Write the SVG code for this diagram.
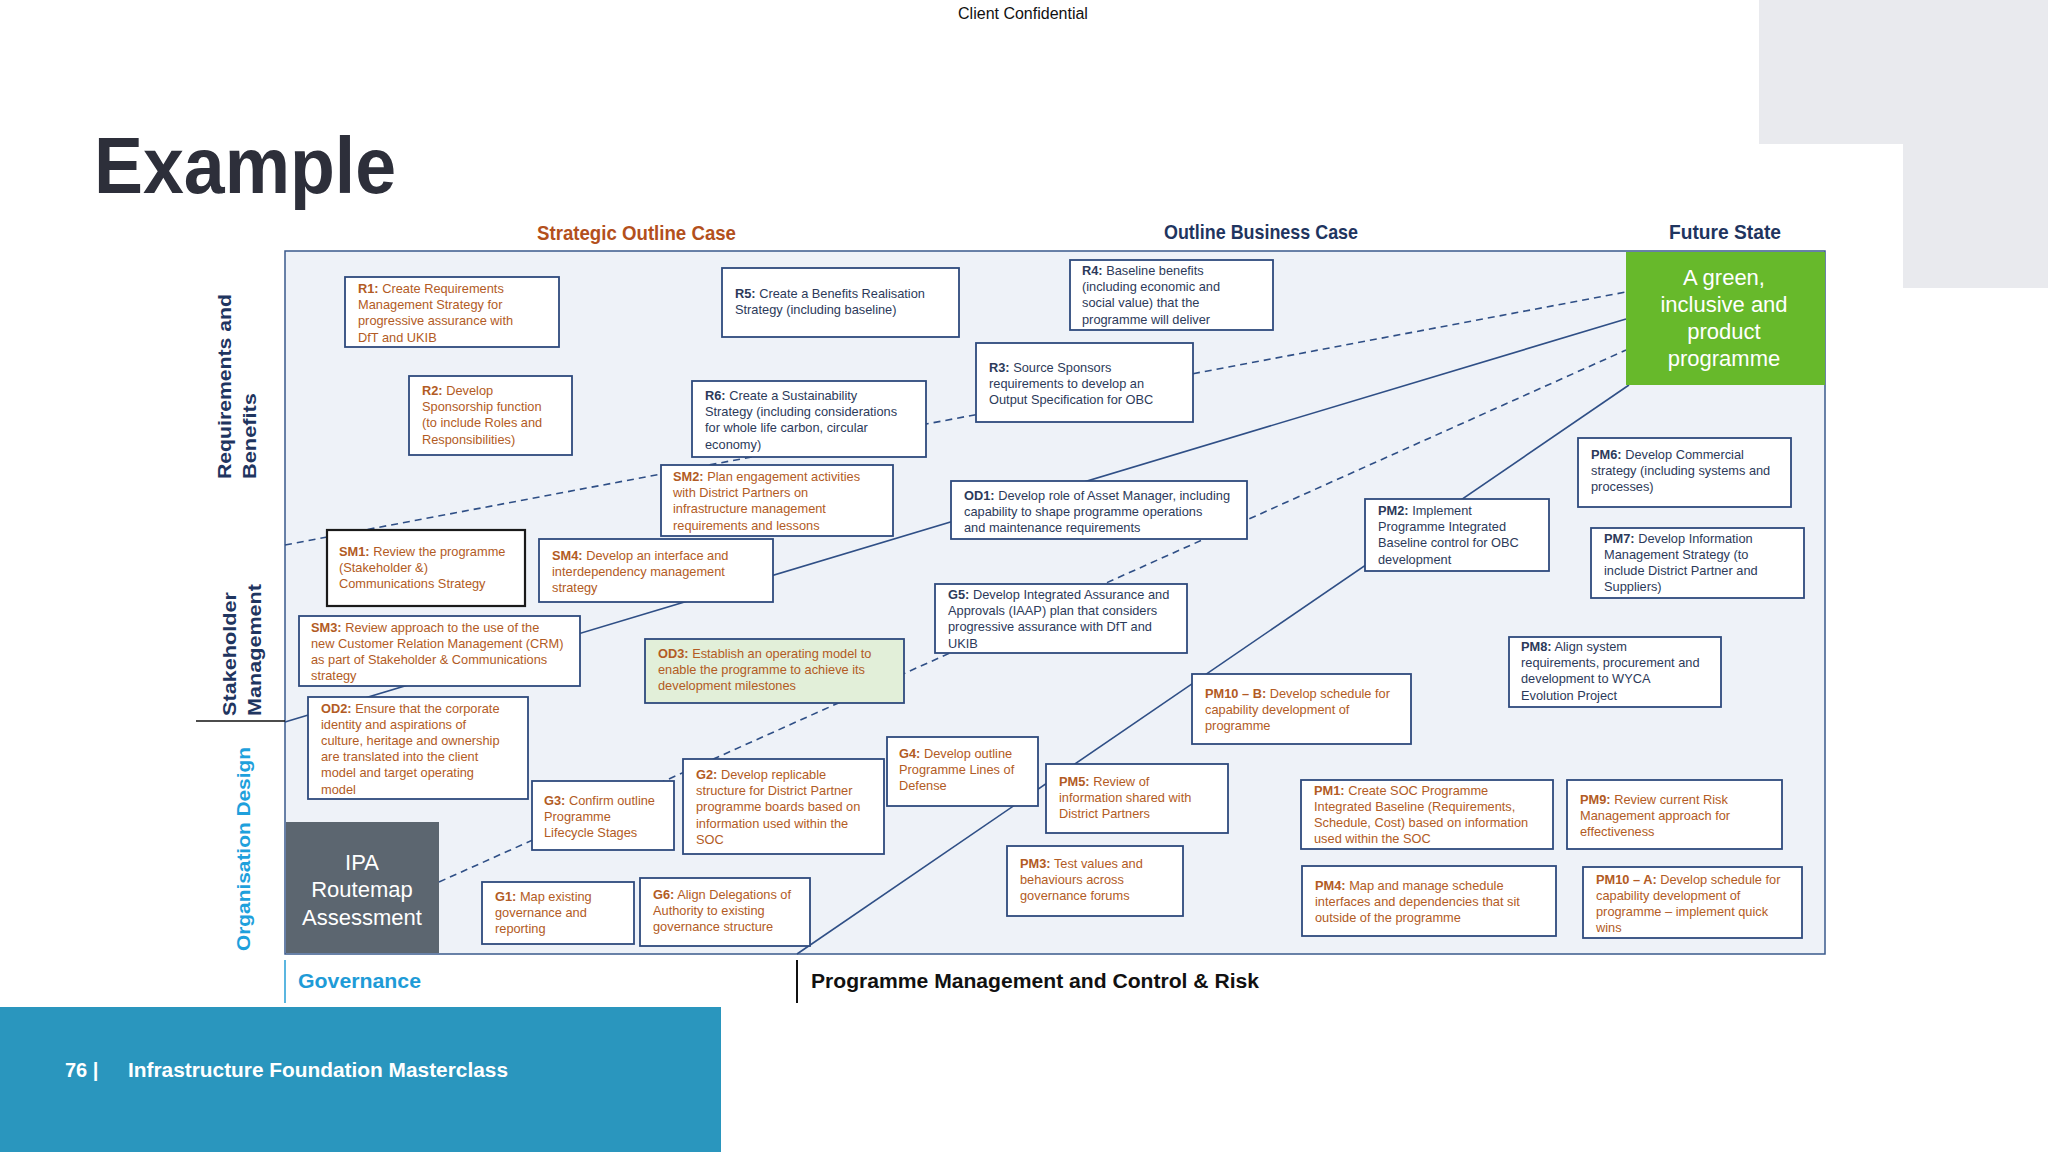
<svg xmlns="http://www.w3.org/2000/svg" width="2048" height="1152" viewBox="0 0 2048 1152">
<style>
.bx{fill:#fff;stroke:#2e4a7d;stroke-width:1.8}
.t{font-family:"Liberation Sans",Arial,sans-serif;font-size:12.8px}
.o{fill:#b25b24}
.n{fill:#2c3a5a}
.b{font-weight:bold}
.dash{fill:none;stroke:#2f4f86;stroke-width:1.6;stroke-dasharray:7 5}
.solid{fill:none;stroke:#2f4f86;stroke-width:1.6}
.hd{font-family:"Liberation Sans",Arial,sans-serif;font-weight:bold}
</style>
<rect width="2048" height="1152" fill="#fff"/>
<rect x="1759" y="0" width="289" height="144" fill="#e9eaee"/>
<rect x="1903" y="144" width="145" height="144" fill="#e9eaee"/>
<text x="1023" y="19" text-anchor="middle" font-family="'Liberation Sans',Arial,sans-serif" font-size="16" fill="#111">Client Confidential</text>
<text x="94" y="193" class="hd" font-size="80" fill="#2d2f3a" textLength="302" lengthAdjust="spacingAndGlyphs">Example</text>

<g id="headers">
<text x="537" y="240" class="hd" font-size="21" fill="#b3501c" textLength="199" lengthAdjust="spacingAndGlyphs">Strategic Outline Case</text>
<text x="1164" y="239" class="hd" font-size="21" fill="#1f3560" textLength="194" lengthAdjust="spacingAndGlyphs">Outline Business Case</text>
<text x="1669" y="239" class="hd" font-size="21" fill="#1f3560" textLength="112" lengthAdjust="spacingAndGlyphs">Future State</text>
</g>

<rect id="frame" x="285" y="251" width="1540" height="703" fill="#eef2f8" stroke="#3a5a8c" stroke-width="1.5"/>

<g id="lanes">
<text transform="translate(231,479) rotate(-90)" class="hd" font-size="19" fill="#1f3560" textLength="185" lengthAdjust="spacingAndGlyphs">Requirements and</text>
<text transform="translate(256,479) rotate(-90)" class="hd" font-size="19" fill="#1f3560" textLength="86" lengthAdjust="spacingAndGlyphs">Benefits</text>
<text transform="translate(236,716) rotate(-90)" class="hd" font-size="19" fill="#1f3560" textLength="124" lengthAdjust="spacingAndGlyphs">Stakeholder</text>
<text transform="translate(261,716) rotate(-90)" class="hd" font-size="19" fill="#1f3560" textLength="132" lengthAdjust="spacingAndGlyphs">Management</text>
<line x1="196" y1="721" x2="285" y2="721" stroke="#111" stroke-width="1.5"/>
<text transform="translate(250,951) rotate(-90)" class="hd" font-size="19" fill="#1ea0dc" textLength="204" lengthAdjust="spacingAndGlyphs">Organisation Design</text>
<line x1="285" y1="960" x2="285" y2="1003" stroke="#5bb6e0" stroke-width="2"/>
<text x="298" y="988" class="hd" font-size="20" fill="#1e9bd7" textLength="123" lengthAdjust="spacingAndGlyphs">Governance</text>
<line x1="797" y1="960" x2="797" y2="1003" stroke="#111" stroke-width="2"/>
<text x="811" y="988" class="hd" font-size="20" fill="#111" textLength="448" lengthAdjust="spacingAndGlyphs">Programme Management and Control &amp; Risk</text>
</g>

<g id="connectors">
<line class="dash" x1="285" y1="545" x2="1626" y2="292"/>
<line class="solid" x1="285" y1="722" x2="1626" y2="319"/>
<line class="dash" x1="439" y1="882" x2="1626" y2="350"/>
<line class="solid" x1="797" y1="954" x2="1629" y2="385"/>
</g>

<g id="goal">
<rect x="1626" y="252" width="199" height="133" fill="#67b92b"/>
<text class="hd" font-weight="normal" font-size="22" fill="#fff" text-anchor="middle" style="font-weight:normal">
<tspan x="1724" y="285">A green,</tspan><tspan x="1724" y="312">inclusive and</tspan><tspan x="1724" y="339">product</tspan><tspan x="1724" y="366">programme</tspan></text>
</g>

<g id="ipa">
<rect x="286" y="822" width="153" height="131" fill="#5c6670"/>
<text font-family="'Liberation Sans',Arial,sans-serif" font-size="22" fill="#fff" text-anchor="middle">
<tspan x="362" y="870">IPA</tspan><tspan x="362" y="897">Routemap</tspan><tspan x="362" y="925">Assessment</tspan></text>
</g>

<g id="R1"><rect class="bx" x="345" y="277" width="214" height="70"/>
<text class="t o"><tspan x="358" y="293"><tspan class="b">R1:</tspan> Create Requirements</tspan><tspan x="358" dy="16.2">Management Strategy for</tspan><tspan x="358" dy="16.2">progressive assurance with</tspan><tspan x="358" dy="16.2">DfT and UKIB</tspan></text></g>

<g id="R5"><rect class="bx" x="722" y="268" width="237" height="69"/>
<text class="t n"><tspan x="735" y="298"><tspan class="b">R5:</tspan> Create a Benefits Realisation</tspan><tspan x="735" dy="16.2">Strategy (including baseline)</tspan></text></g>

<g id="R4"><rect class="bx" x="1070" y="260" width="203" height="70"/>
<text class="t n"><tspan x="1082" y="275"><tspan class="b">R4:</tspan> Baseline benefits</tspan><tspan x="1082" dy="16.2">(including economic and</tspan><tspan x="1082" dy="16.2">social value) that the</tspan><tspan x="1082" dy="16.2">programme will deliver</tspan></text></g>

<g id="R3"><rect class="bx" x="976" y="343" width="217" height="79"/>
<text class="t n"><tspan x="989" y="371.5"><tspan class="b">R3:</tspan> Source Sponsors</tspan><tspan x="989" dy="16.2">requirements to develop an</tspan><tspan x="989" dy="16.2">Output Specification for OBC</tspan></text></g>

<g id="R2"><rect class="bx" x="409" y="376" width="163" height="79"/>
<text class="t o"><tspan x="422" y="395"><tspan class="b">R2:</tspan> Develop</tspan><tspan x="422" dy="16.2">Sponsorship function</tspan><tspan x="422" dy="16.2">(to include Roles and</tspan><tspan x="422" dy="16.2">Responsibilities)</tspan></text></g>

<g id="R6"><rect class="bx" x="692" y="381" width="234" height="76"/>
<text class="t n"><tspan x="705" y="400"><tspan class="b">R6:</tspan> Create a Sustainability</tspan><tspan x="705" dy="16.2">Strategy (including considerations</tspan><tspan x="705" dy="16.2">for whole life carbon, circular</tspan><tspan x="705" dy="16.2">economy)</tspan></text></g>

<g id="SM2"><rect class="bx" x="661" y="465" width="232" height="71"/>
<text class="t o"><tspan x="673" y="481"><tspan class="b">SM2:</tspan> Plan engagement activities</tspan><tspan x="673" dy="16.2">with District Partners on</tspan><tspan x="673" dy="16.2">infrastructure management</tspan><tspan x="673" dy="16.2">requirements and lessons</tspan></text></g>

<g id="OD1"><rect class="bx" x="951" y="481" width="296" height="58"/>
<text class="t n"><tspan x="964" y="499.5"><tspan class="b">OD1:</tspan> Develop role of Asset Manager, including</tspan><tspan x="964" dy="16.2">capability to shape programme operations</tspan><tspan x="964" dy="16.2">and maintenance requirements</tspan></text></g>

<g id="SM1"><rect x="327" y="530" width="198" height="76" fill="#fff" stroke="#1a1a1a" stroke-width="2.2"/>
<text class="t o"><tspan x="339" y="556"><tspan class="b">SM1:</tspan> Review the programme</tspan><tspan x="339" dy="16.2">(Stakeholder &amp;)</tspan><tspan x="339" dy="16.2">Communications Strategy</tspan></text></g>

<g id="SM4"><rect class="bx" x="539" y="539" width="234" height="63"/>
<text class="t o"><tspan x="552" y="560"><tspan class="b">SM4:</tspan> Develop an interface and</tspan><tspan x="552" dy="16.2">interdependency management</tspan><tspan x="552" dy="16.2">strategy</tspan></text></g>

<g id="G5"><rect class="bx" x="935" y="584" width="252" height="69"/>
<text class="t n"><tspan x="948" y="599"><tspan class="b">G5:</tspan> Develop Integrated Assurance and</tspan><tspan x="948" dy="16.2">Approvals (IAAP) plan that considers</tspan><tspan x="948" dy="16.2">progressive assurance with DfT and</tspan><tspan x="948" dy="16.2">UKIB</tspan></text></g>

<g id="SM3"><rect class="bx" x="299" y="616" width="281" height="70"/>
<text class="t o"><tspan x="311" y="631.5"><tspan class="b">SM3:</tspan> Review approach to the use of the</tspan><tspan x="311" dy="16.2">new Customer Relation Management (CRM)</tspan><tspan x="311" dy="16.2">as part of Stakeholder &amp; Communications</tspan><tspan x="311" dy="16.2">strategy</tspan></text></g>

<g id="OD3"><rect x="645" y="639" width="259" height="64" fill="#e2efd9" stroke="#2e4a7d" stroke-width="1.8"/>
<text class="t o"><tspan x="658" y="657.5"><tspan class="b">OD3:</tspan> Establish an operating model to</tspan><tspan x="658" dy="16.2">enable the programme to achieve its</tspan><tspan x="658" dy="16.2">development milestones</tspan></text></g>

<g id="OD2"><rect class="bx" x="308" y="697" width="220" height="102"/>
<text class="t o"><tspan x="321" y="712.5"><tspan class="b">OD2:</tspan> Ensure that the corporate</tspan><tspan x="321" dy="16.2">identity and aspirations of</tspan><tspan x="321" dy="16.2">culture, heritage and ownership</tspan><tspan x="321" dy="16.2">are translated into the client</tspan><tspan x="321" dy="16.2">model and target operating</tspan><tspan x="321" dy="16.2">model</tspan></text></g>

<g id="G4"><rect class="bx" x="887" y="737" width="151" height="69"/>
<text class="t o"><tspan x="899" y="758"><tspan class="b">G4:</tspan> Develop outline</tspan><tspan x="899" dy="16.2">Programme Lines of</tspan><tspan x="899" dy="16.2">Defense</tspan></text></g>

<g id="G2"><rect class="bx" x="683" y="759" width="201" height="95"/>
<text class="t o"><tspan x="696" y="779"><tspan class="b">G2:</tspan> Develop replicable</tspan><tspan x="696" dy="16.2">structure for District Partner</tspan><tspan x="696" dy="16.2">programme boards based on</tspan><tspan x="696" dy="16.2">information used within the</tspan><tspan x="696" dy="16.2">SOC</tspan></text></g>

<g id="G3"><rect class="bx" x="532" y="781" width="142" height="69"/>
<text class="t o"><tspan x="544" y="805"><tspan class="b">G3:</tspan> Confirm  outline</tspan><tspan x="544" dy="16.2">Programme</tspan><tspan x="544" dy="16.2">Lifecycle Stages</tspan></text></g>

<g id="PM5"><rect class="bx" x="1046" y="764" width="182" height="69"/>
<text class="t o"><tspan x="1059" y="785.5"><tspan class="b">PM5:</tspan> Review of</tspan><tspan x="1059" dy="16.2">information shared with</tspan><tspan x="1059" dy="16.2">District Partners</tspan></text></g>

<g id="PM3"><rect class="bx" x="1007" y="846" width="176" height="70"/>
<text class="t o"><tspan x="1020" y="867.5"><tspan class="b">PM3:</tspan> Test values and</tspan><tspan x="1020" dy="16.2">behaviours across</tspan><tspan x="1020" dy="16.2">governance forums</tspan></text></g>

<g id="G1"><rect class="bx" x="482" y="882" width="152" height="62"/>
<text class="t o"><tspan x="495" y="900.5"><tspan class="b">G1:</tspan> Map existing</tspan><tspan x="495" dy="16.2">governance and</tspan><tspan x="495" dy="16.2">reporting</tspan></text></g>

<g id="G6"><rect class="bx" x="640" y="878" width="170" height="68"/>
<text class="t o"><tspan x="653" y="899"><tspan class="b">G6:</tspan> Align Delegations of</tspan><tspan x="653" dy="16.2">Authority to existing</tspan><tspan x="653" dy="16.2">governance structure</tspan></text></g>

<g id="PM10B"><rect class="bx" x="1192" y="674" width="219" height="70"/>
<text class="t o"><tspan x="1205" y="698"><tspan class="b">PM10 – B:</tspan> Develop schedule for</tspan><tspan x="1205" dy="16.2">capability development of</tspan><tspan x="1205" dy="16.2">programme</tspan></text></g>

<g id="PM2"><rect class="bx" x="1365" y="499" width="184" height="72"/>
<text class="t n"><tspan x="1378" y="515"><tspan class="b">PM2:</tspan> Implement</tspan><tspan x="1378" dy="16.2">Programme Integrated</tspan><tspan x="1378" dy="16.2">Baseline control for OBC</tspan><tspan x="1378" dy="16.2">development</tspan></text></g>

<g id="PM6"><rect class="bx" x="1578" y="438" width="213" height="69"/>
<text class="t n"><tspan x="1591" y="459"><tspan class="b">PM6:</tspan> Develop Commercial</tspan><tspan x="1591" dy="16.2">strategy (including systems and</tspan><tspan x="1591" dy="16.2">processes)</tspan></text></g>

<g id="PM7"><rect class="bx" x="1591" y="528" width="213" height="70"/>
<text class="t n"><tspan x="1604" y="542.5"><tspan class="b">PM7:</tspan> Develop Information</tspan><tspan x="1604" dy="16.2">Management Strategy (to</tspan><tspan x="1604" dy="16.2">include District Partner and</tspan><tspan x="1604" dy="16.2">Suppliers)</tspan></text></g>

<g id="PM8"><rect class="bx" x="1509" y="637" width="212" height="70"/>
<text class="t n"><tspan x="1521" y="651"><tspan class="b">PM8:</tspan> Align system</tspan><tspan x="1521" dy="16.2">requirements, procurement and</tspan><tspan x="1521" dy="16.2">development to WYCA</tspan><tspan x="1521" dy="16.2">Evolution Project</tspan></text></g>

<g id="PM1"><rect class="bx" x="1301" y="780" width="252" height="69"/>
<text class="t o"><tspan x="1314" y="794.5"><tspan class="b">PM1:</tspan> Create SOC Programme</tspan><tspan x="1314" dy="16.2">Integrated Baseline (Requirements,</tspan><tspan x="1314" dy="16.2">Schedule, Cost) based on information</tspan><tspan x="1314" dy="16.2">used within the SOC</tspan></text></g>

<g id="PM9"><rect class="bx" x="1567" y="780" width="215" height="69"/>
<text class="t o"><tspan x="1580" y="803.5"><tspan class="b">PM9:</tspan> Review current Risk</tspan><tspan x="1580" dy="16.2">Management approach for</tspan><tspan x="1580" dy="16.2">effectiveness</tspan></text></g>

<g id="PM4"><rect class="bx" x="1302" y="866" width="254" height="70"/>
<text class="t o"><tspan x="1315" y="890"><tspan class="b">PM4:</tspan> Map and manage schedule</tspan><tspan x="1315" dy="16.2">interfaces and dependencies that sit</tspan><tspan x="1315" dy="16.2">outside of the programme</tspan></text></g>

<g id="PM10A"><rect class="bx" x="1583" y="867" width="219" height="71"/>
<text class="t o"><tspan x="1596" y="883.5"><tspan class="b">PM10 – A:</tspan> Develop schedule for</tspan><tspan x="1596" dy="16.2">capability development of</tspan><tspan x="1596" dy="16.2">programme – implement quick</tspan><tspan x="1596" dy="16.2">wins</tspan></text></g>

<g id="footer">
<rect x="0" y="1007" width="721" height="145" fill="#2a96be"/>
<text x="65" y="1077" class="hd" font-size="20" fill="#fff">76 |</text>
<text x="128" y="1077" class="hd" font-size="20" fill="#fff" textLength="380" lengthAdjust="spacingAndGlyphs">Infrastructure Foundation Masterclass</text>
</g>
</svg>
